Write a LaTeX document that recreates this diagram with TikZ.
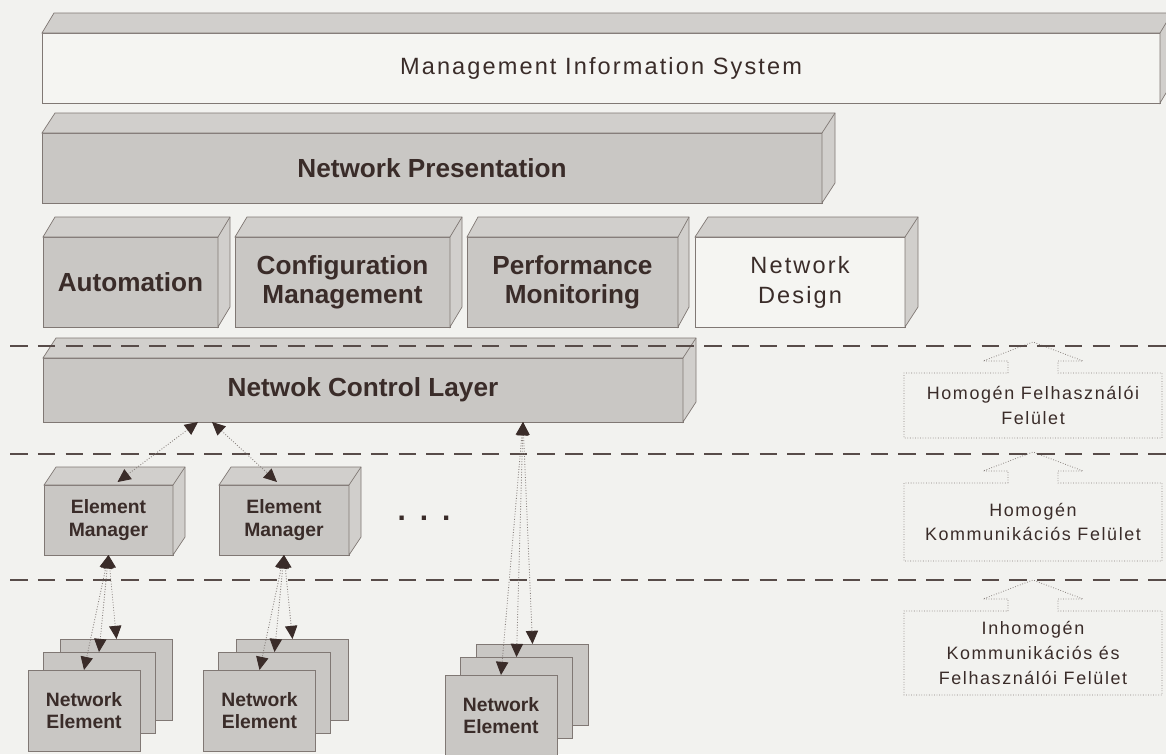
\documentclass[tikz,border=0pt]{standalone}
\usepackage{fontspec}
\setmainfont{Liberation Sans}
\newfontfamily\trackfont[LetterSpace=9]{Liberation Sans}
\usetikzlibrary{arrows.meta}

\definecolor{paper}{RGB}{242,242,239}
\definecolor{boxgray}{RGB}{201,199,196}
\definecolor{facegray}{RGB}{209,207,204}
\definecolor{edge}{RGB}{128,120,116}
\definecolor{ink}{RGB}{58,44,41}
\definecolor{linkgray}{RGB}{135,128,124}
\definecolor{frontwhite}{RGB}{245,245,242}

\newcommand{\pxl}{0.02cm}
% top and side face of a box node
\newcommand{\cuboid}[2]{%
  \filldraw[face] (#1.north west) -- ([shift={#2}]#1.north west)
  -- ([shift={#2}]#1.north east) -- ([shift={#2}]#1.south east)
  -- (#1.south east) -- (#1.north east) -- cycle;
  \draw[face] (#1.north east) -- ([shift={#2}]#1.north east);}
% outline of a hint box with the arrow on top
\newcommand{\hintoutline}[1]{%
  \draw[hint] ([shift={(-25,0)}]#1.north) -- ++(0,-12) -- ++(-25,0)
  -- ([shift={(0,-31)}]#1.north) -- ([shift={(50,-12)}]#1.north)
  -- ++(-25,0) -- ([shift={(25,0)}]#1.north) -- (#1.north east)
  -- (#1.south east) -- (#1.south west) -- (#1.north west) -- cycle;}

\tikzset{
  box/.style={draw=edge, line width=0.4pt, fill=boxgray, text=ink,
    inner sep=0pt, outer sep=0pt, align=center},
  whitebox/.style={box, fill=frontwhite},
  face/.style={draw=edge, line width=0.4pt, fill=facegray},
  bigbold/.style={font=\fontsize{14.9}{16.6}\selectfont\bfseries},
  bigplain/.style={font=\trackfont\fontsize{13.4}{17}\selectfont},
  smallbold/.style={font=\fontsize{11}{12.8}\selectfont\bfseries},
  neblock/.style={box, minimum width=112*\pxl, minimum height=81*\pxl, smallbold},
  hintbox/.style={text=ink, inner sep=0pt, outer sep=0pt, align=center,
    minimum width=258*\pxl, font=\trackfont\fontsize{10.2}{14.2}\selectfont},
  hint/.style={draw=linkgray, line width=0.45pt, densely dotted},
  sepline/.style={draw=ink!85, line width=0.85pt, dash pattern=on 10pt off 5.8pt},
  link/.style={draw=linkgray, line width=0.5pt, densely dotted,
    {Triangle[length=7.5pt,width=7pt,color=ink]}-{Triangle[length=7.5pt,width=7pt,color=ink]}}
}

\begin{document}
\begin{tikzpicture}[x=0.02cm, y=-0.02cm]
  \useasboundingbox[fill=paper] (0,0) rectangle (1166,754);

  % upper layers
  \node[whitebox, bigplain, minimum width=1118*\pxl, minimum height=70*\pxl]
  (mis) at (601,68) {Management Information System};
  \cuboid{mis}{(12,-20)}
  \node[box, bigbold, minimum width=780*\pxl, minimum height=70*\pxl]
  (pres) at (432,168) {Network Presentation};
  \cuboid{pres}{(13,-20)}

  \node[box, bigbold, minimum width=175*\pxl, minimum height=90*\pxl]
  (auto) at (130.5,282) {Automation};
  \cuboid{auto}{(12,-20)}
  \node[box, bigbold, minimum width=215*\pxl, minimum height=90*\pxl]
  (conf) at (342.5,282) {Configuration\\Management};
  \cuboid{conf}{(12,-20)}
  \node[box, bigbold, minimum width=211*\pxl, minimum height=90*\pxl]
  (perf) at (572.5,282) {Performance\\Monitoring};
  \cuboid{perf}{(11,-20)}
  \node[whitebox, bigplain, minimum width=210*\pxl, minimum height=90*\pxl]
  (design) at (800,282) {Network\\Design};
  \cuboid{design}{(13,-20)}

  \node[box, bigbold, minimum width=640*\pxl, minimum height=64*\pxl]
  (ncl) at (363,390) {Netwok Control Layer};
  \cuboid{ncl}{(13,-20)}

  % element managers
  \node[box, smallbold, minimum width=129*\pxl, minimum height=70*\pxl]
  (em1) at (108.5,520) {Element\\Manager};
  \cuboid{em1}{(12,-18)}
  \node[box, smallbold, minimum width=130*\pxl, minimum height=70*\pxl]
  (em2) at (284,520) {Element\\Manager};
  \cuboid{em2}{(12,-18)}
  \node[text=ink, font=\fontsize{17}{17}\selectfont\bfseries]
  (dots) at (424,518) {.\hspace{8pt}.\hspace{8pt}.};

  % network elements
  \node[neblock] (ne1a) at (116.5,679.5) {};
  \node[neblock] (ne1b) at (99,692.5) {};
  \node[neblock] (ne1c) at (84,710.5) {Network\\Element};
  \node[neblock] (ne2a) at (292.5,679.5) {};
  \node[neblock] (ne2b) at (274.5,692.5) {};
  \node[neblock] (ne2c) at (259.5,710.5) {Network\\Element};
  \node[neblock] (ne3a) at (532.5,684.5) {};
  \node[neblock] (ne3b) at (516.5,697.5) {};
  \node[neblock] (ne3c) at (501,715.5) {Network\\Element};

  % hint boxes on the right
  \node[hintbox, minimum height=65*\pxl] (hom1) at (1033,405.5)
  {Homogén Felhasználói\\Felület};
  \hintoutline{hom1}
  \node[hintbox, minimum height=78*\pxl] (hom2) at (1033,522)
  {Homogén\\Kommunikációs Felület};
  \hintoutline{hom2}
  \node[hintbox, minimum height=84*\pxl] (inhom) at (1033,653)
  {Inhomogén\\Kommunikációs és\\Felhasználói Felület};
  \hintoutline{inhom}

  % layer borders
  \draw[sepline] (10,346) -- (1166,346);
  \draw[sepline] (10,454) -- (1166,454);
  \draw[sepline] (10,580) -- (1166,580);

  % connections
  \draw[link] ([shift={(155,0)}]ncl.south west) -- ([shift={(9,-3)}]em1.north);
  \draw[link] ([shift={(169,0)}]ncl.south west) -- ([shift={(-7,-3)}]em2.north);
  \foreach \n in {a,b,c}
  {
    \draw[link] (em1.south) -- (ne1\n.north);
    \draw[link] (em2.south) -- (ne2\n.north);
    \draw[link] ([shift={(480,0)}]ncl.south west) -- (ne3\n.north);
  }

\end{tikzpicture}
\end{document}
